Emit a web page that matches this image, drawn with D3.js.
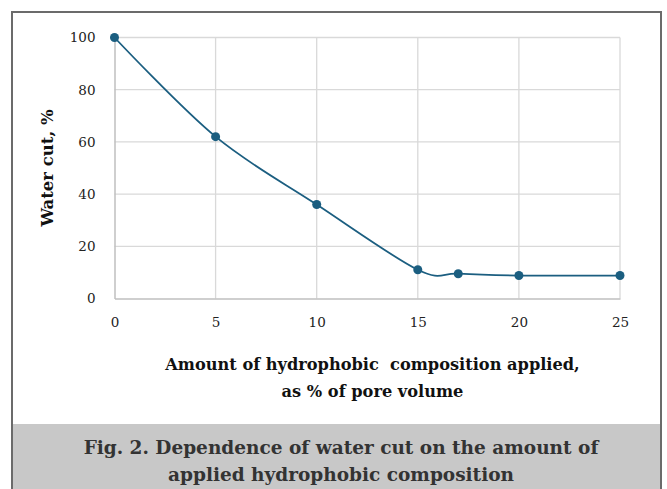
<!DOCTYPE html>
<html>
<head>
<meta charset="utf-8">
<script src="https://cdn.jsdelivr.net/npm/d3@7"></script>
<style>
  body { margin: 0; background: #fff; }
  svg text { font-family: "DejaVu Serif", "Liberation Serif", serif; }
</style>
</head>
<body>
<svg id="chart"></svg>
<script>
var width = 667, height = 489;

// data
var amount = [0, 5, 10, 15, 17, 20, 25];
var waterCut = [100, 62, 36, 11, 9.5, 8.8, 8.8];
var xTicks = [0, 5, 10, 15, 20, 25];
var yTicks = [0, 20, 40, 60, 80, 100];

var data = amount.map(function(d, i) { return [d, waterCut[i]]; });

var margin = {left: 114.5, right: 47, top: 37.5, bottom: 190.5};

var svg = d3.select("#chart").attr("width", width).attr("height", height);

var x = d3.scaleLinear().domain([0, 25]).range([margin.left, width - margin.right]);
var y = d3.scaleLinear().domain([0, 100]).range([height - margin.bottom, margin.top]);

// caption band
svg.append("rect")
    .attr("x", 12).attr("y", 424)
    .attr("width", 649).attr("height", height - 424)
    .attr("fill", "#c8c8c8");

// outer frame
svg.append("path")
    .attr("d", "M12," + height + "V12H661V" + height)
    .attr("fill", "none")
    .attr("stroke", "#6b6b6b")
    .attr("stroke-width", 2);

// grid
svg.append("g").selectAll("line")
    .data(yTicks.slice(1))
    .join("line")
    .attr("x1", x(0)).attr("x2", x(25))
    .attr("y1", function(d) { return y(d); }).attr("y2", function(d) { return y(d); })
    .attr("stroke", "#d9d9d9").attr("stroke-width", 1.3);

svg.append("g").selectAll("line")
    .data(xTicks.slice(1))
    .join("line")
    .attr("y1", y(0)).attr("y2", y(100))
    .attr("x1", function(d) { return x(d); }).attr("x2", function(d) { return x(d); })
    .attr("stroke", "#d9d9d9").attr("stroke-width", 1.3);

// axes
var xAxis = svg.append("g")
    .attr("transform", "translate(0," + y(0) + ")")
    .call(d3.axisBottom(x).tickValues(xTicks).tickSize(0).tickPadding(19));
var yAxis = svg.append("g")
    .attr("transform", "translate(" + x(0) + ",0)")
    .call(d3.axisLeft(y).tickValues(yTicks).tickSize(0).tickPadding(19));

[xAxis, yAxis].forEach(function(a) {
  a.select(".domain").attr("stroke", "#bfbfbf").attr("stroke-width", 1.5);
  a.selectAll("text")
    .attr("font-family", "DejaVu Serif, Liberation Serif, serif")
    .attr("font-size", 13.5)
    .attr("fill", "#222");
});

// line + markers
var line = d3.line()
    .x(function(d) { return x(d[0]); })
    .y(function(d) { return y(d[1]); })
    .curve(d3.curveCardinal.tension(0));

svg.append("path")
    .datum(data)
    .attr("d", line)
    .attr("fill", "none")
    .attr("stroke", "#1b5e80")
    .attr("stroke-width", 1.8);

svg.append("g").selectAll("circle")
    .data(data)
    .join("circle")
    .attr("cx", function(d) { return x(d[0]); })
    .attr("cy", function(d) { return y(d[1]); })
    .attr("r", 4.5)
    .attr("fill", "#1b5e80");

// axis titles
svg.append("text")
    .attr("transform", "translate(53,168) rotate(-90)")
    .attr("text-anchor", "middle")
    .attr("font-size", 16.5)
    .attr("font-weight", "bold")
    .attr("fill", "#111")
    .text("Water cut, %");

var xt = svg.append("text")
    .attr("text-anchor", "middle")
    .attr("font-size", 16.2)
    .attr("font-weight", "bold")
    .attr("fill", "#111");
xt.append("tspan").attr("x", 372.5).attr("y", 370).attr("xml:space", "preserve")
    .text("Amount of hydrophobic  composition applied,");
xt.append("tspan").attr("x", 372.5).attr("y", 397).text("as % of pore volume");

// caption
var cap = svg.append("text")
    .attr("text-anchor", "middle")
    .attr("font-size", 18.5)
    .attr("font-weight", "bold")
    .attr("fill", "#333");
cap.append("tspan").attr("x", 341).attr("y", 454).text("Fig. 2. Dependence of water cut on the amount of");
cap.append("tspan").attr("x", 341).attr("y", 481).text("applied hydrophobic composition");
</script>
</body>
</html>
